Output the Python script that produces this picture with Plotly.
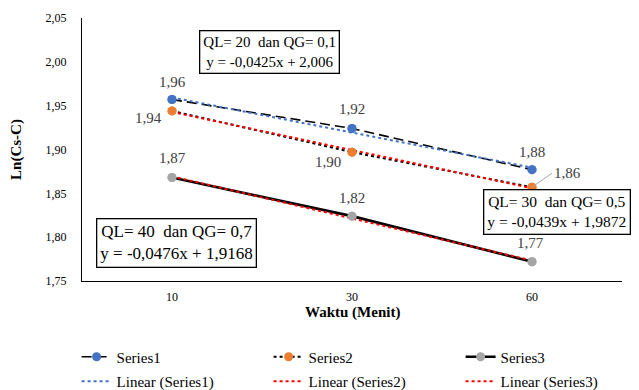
import numpy as np
import plotly.graph_objects as go

# Waktu pengambilan sampel (menit) dan nilai Ln(Cs-C) tiap seri
waktu = ["10", "30", "60"]
series1 = [1.957, 1.924, 1.877]
series2 = [1.944, 1.897, 1.857]
series3 = [1.868, 1.824, 1.772]

series_names = ["Series1", "Series2", "Series3"]
marker_colors = ["#4472C4", "#ED7D31", "#A5A5A5"]
line_dash = ["10px,5px", "dot", "solid"]
line_width = [1.6, 2.0, 2.6]
trend_colors = ["#4472C4", "#FF0000", "#FF0000"]

box_texts = [
    "QL= 20  dan QG= 0,1<br>y = -0,0425x + 2,006",
    "QL= 30  dan QG= 0,5<br>y = -0,0439x + 1,9872",
    "QL= 40  dan QG= 0,7<br>y = -0,0476x + 1,9168",
]

FONT = "Liberation Serif"
all_series = [series1, series2, series3]

fig = go.Figure()

# Garis data
for name, vals, mc, dash, lw in zip(series_names, all_series, marker_colors, line_dash, line_width):
    fig.add_trace(go.Scatter(
        x=waktu, y=vals, name=name, mode="lines+markers", legend="legend",
        line=dict(color="black", dash=dash, width=lw),
        marker=dict(color=mc, size=9),
    ))

# Garis tren linear (Excel memakai indeks kategori 1, 2, 3)
idx = np.arange(1, len(waktu) + 1)
for name, vals, tc in zip(series_names, all_series, trend_colors):
    slope, intercept = np.polyfit(idx, vals, 1)
    fig.add_trace(go.Scatter(
        x=waktu, y=slope * idx + intercept, name=f"Linear ({name})",
        mode="lines", legend="legend2",
        line=dict(color=tc, dash="dot", width=2),
    ))

# Penanda di atas garis
for vals, mc in zip(all_series, marker_colors):
    fig.add_trace(go.Scatter(
        x=waktu, y=vals, mode="markers", showlegend=False, hoverinfo="skip",
        marker=dict(color=mc, size=9),
    ))

# Label data (posisi x annotation = indeks kategori)
label_shift = [
    [(0, 18), (0, 19), (0, 18)],
    [(-24, -7), (-24, -10), None],
    [(0, 20), (0, 18), (-2, 19)],
]
for si, (vals, shifts) in enumerate(zip(all_series, label_shift)):
    for xi, (v, sh) in enumerate(zip(vals, shifts)):
        txt = f"{v:.2f}".replace(".", ",")
        if sh is None:
            fig.add_annotation(
                x=xi, y=v, text=txt, showarrow=True, arrowhead=0,
                arrowcolor="#A5A5A5", arrowwidth=1, ax=20, ay=-14,
                xanchor="left", yanchor="middle",
                font=dict(family=FONT, size=15, color="#404040"),
            )
        else:
            fig.add_annotation(
                x=xi, y=v, text=txt, showarrow=False,
                xanchor="center", yanchor="middle",
                xshift=sh[0], yshift=sh[1],
                font=dict(family=FONT, size=15, color="#404040"),
            )

# Kotak persamaan
box_pos = [(0.348, 0.871), (0.879, 0.262), (0.175, 0.144)]
box_font = [15, 15.5, 17]
for txt, (bx, by), fs in zip(box_texts, box_pos, box_font):
    fig.add_annotation(
        xref="paper", yref="paper", x=bx, y=by, text=txt, showarrow=False,
        xanchor="center", yanchor="middle",
        align="center", bgcolor="white", bordercolor="black", borderwidth=1.3,
        borderpad=3, font=dict(family=FONT, size=fs, color="black"),
    )

# Judul sumbu X
fig.add_annotation(
    xref="paper", yref="paper", x=0.5, y=-0.120, text="<b>Waktu (Menit)</b>",
    showarrow=False, xanchor="center", yanchor="middle",
    font=dict(family=FONT, size=15, color="black"),
)

legend_common = dict(
    orientation="h", x=-0.01, xanchor="left", yanchor="middle",
    entrywidth=147, entrywidthmode="pixels",
    font=dict(family=FONT, size=15, color="black"),
    bgcolor="rgba(0,0,0,0)",
)

fig.update_layout(
    width=639, height=390,
    margin=dict(l=82, r=17, t=18, b=109, autoexpand=False),
    paper_bgcolor="white", plot_bgcolor="white",
    separators=",.",
    font=dict(family=FONT, size=12, color="black"),
    showlegend=True,
    legend=dict(y=-0.289, **legend_common),
    legend2=dict(y=-0.382, **legend_common),
    xaxis=dict(
        type="category", range=[-0.5, 2.5], showline=True, linecolor="black",
        linewidth=1.3, showgrid=False, ticks="", zeroline=False,
        tickfont=dict(family=FONT, size=12), ticklabelstandoff=4,
    ),
    yaxis=dict(
        range=[1.75, 2.05], dtick=0.05, tickformat=".2f", showline=True,
        linecolor="black", linewidth=1.3, showgrid=False, ticks="", zeroline=False,
        tickfont=dict(family=FONT, size=12), ticklabelstandoff=12,
        title=dict(text="<b>Ln(Cs-C)</b>", font=dict(family=FONT, size=15), standoff=20),
    ),
)

fig.write_html("out.html")
